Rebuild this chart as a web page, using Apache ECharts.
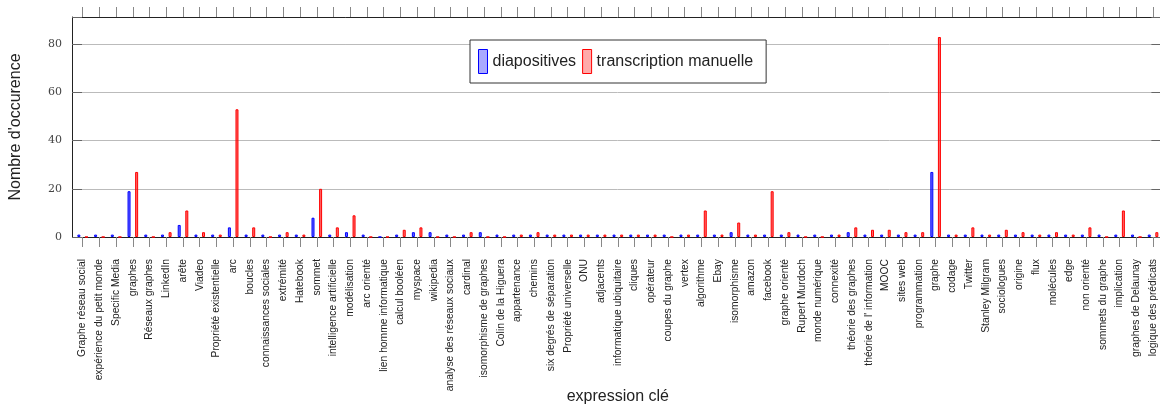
<!DOCTYPE html>
<html>
<head>
<meta charset="utf-8">
<script src="https://cdn.jsdelivr.net/npm/echarts@6/dist/echarts.min.js"></script>
<style>
html,body{margin:0;padding:0;background:#fff;}
#chart{width:1160px;height:405px;}
</style>
</head>
<body>
<div id="chart"></div>
<script>
const categories = [
  "Graphe réseau social","expérience du petit monde","Specific Media","graphes","Réseaux graphes",
  "LinkedIn","arête","Viadeo","Propriété existentielle","arc","boucles","connaissances sociales",
  "extrémité","Hatebook","sommet","intelligence artificielle","modélisation","arc orienté",
  "lien homme informatique","calcul booléen","myspace","wikipedia","analyse des réseaux sociaux",
  "cardinal","isomorphisme de graphes","Colin de la Higuera","appartenance","chemins",
  "six degrés de séparation","Propriété universelle","ONU","adjacents","informatique ubiquitaire",
  "cliques","opérateur","coupes du graphe","vertex","algorithme","Ebay","isomorphisme","amazon",
  "facebook","graphe orienté","Rupert Murdoch","monde numérique","connexité","théorie des graphes",
  "théorie de l' information","MOOC","sites web","programmation","graphe","codage","Twitter",
  "Stanley Milgram","sociologues","origine","flux","molécules","edge","non orienté",
  "sommets du graphe","implication","graphes de Delaunay","logique des prédicats"
];
const diapositives = [
  1,1,1,19,1,1,5,1,1,4,1,1,1,1,8,1,2,1,0,1,2,2,1,1,2,1,1,1,1,1,1,1,1,
  1,1,1,1,1,1,2,1,1,1,1,1,1,2,1,1,1,1,27,1,1,1,1,1,1,1,1,1,1,1,1,1
];
const transcription = [
  0,0,0,27,0,2,11,2,1,53,4,0,2,1,20,4,9,0,0,3,4,0,0,2,0,0,1,2,1,1,1,1,1,
  1,1,0,1,11,1,6,1,19,2,0,0,1,4,3,3,2,2,83,1,4,1,3,2,1,2,1,4,0,11,0,2
];
const yTicks = [0,20,40,60,80];
const seriesNames = ["diapositives","transcription manuelle"];

const chart = echarts.init(document.getElementById('chart'), null, {renderer:'canvas'});
const tickStyle = {color:'#888', width:1};
chart.setOption({
  animation:false,
  backgroundColor:'#fff',
  grid:{left:74.3, right:-1.4, top:17, bottom:168, containLabel:false, outerBoundsMode:'none'},
  legend:{
    left:470, top:40, orient:'horizontal', icon:'rect',
    itemWidth:9, itemHeight:24, itemGap:6,
    padding:[9,13,9,8],
    borderColor:'#333', borderWidth:1, backgroundColor:'#fff',
    selectedMode:false,
    textStyle:{fontSize:16, fontFamily:'Liberation Sans', color:'#222'},
    data:[
      {name:seriesNames[0], itemStyle:{color:'#aaaaff', borderColor:'#0000ff', borderWidth:1}},
      {name:seriesNames[1], itemStyle:{color:'#ffaaaa', borderColor:'#ff0000', borderWidth:1}}
    ]
  },
  xAxis:[
    {
      type:'category', data:categories, boundaryGap:true, position:'bottom',
      axisLine:{show:true, onZero:false, lineStyle:{color:'#222', width:1}},
      axisTick:{show:true, alignWithLabel:true, inside:false, length:10, interval:0, lineStyle:tickStyle},
      axisLabel:{show:true, rotate:90, interval:0, margin:22, fontSize:10.3, fontFamily:'Liberation Sans', color:'#222'},
      splitLine:{show:false},
      name:'expression clé', nameLocation:'middle', nameGap:152, nameMoveOverlap:false,
      nameTextStyle:{fontSize:16, fontFamily:'Liberation Sans', color:'#222'}
    },
    {
      type:'category', data:categories, boundaryGap:true, position:'top',
      axisLine:{show:true, onZero:false, lineStyle:{color:'#222', width:1}},
      axisTick:{show:true, alignWithLabel:true, inside:false, length:10, interval:0, lineStyle:tickStyle},
      axisLabel:{show:false, interval:0},
      splitLine:{show:false}
    }
  ],
  yAxis:[
    {
      type:'value', min:0, max:91.3, interval:20, position:'left', offset:2.3,
      axisLine:{show:true, onZero:false, lineStyle:{color:'#222', width:1}},
      axisTick:{show:true, inside:true, length:10, lineStyle:{color:'#666', width:1}},
      axisLabel:{show:true, margin:10, fontSize:11, fontFamily:'DejaVu Serif', color:'#444',
        formatter:function(v){ return yTicks.indexOf(v) >= 0 ? String(v) : ''; }},
      splitLine:{show:true, lineStyle:{color:'#bbb', width:1}},
      name:"Nombre d'occurence", nameLocation:'middle', nameGap:48.5, nameMoveOverlap:false,
      nameTextStyle:{fontSize:16, fontFamily:'Liberation Sans', color:'#222'}
    },
    {
      type:'value', min:0, max:91.3, interval:20, position:'right',
      axisLine:{show:true, onZero:false, lineStyle:{color:'#222', width:1}},
      axisTick:{show:true, inside:true, length:10, lineStyle:{color:'#666', width:1}},
      axisLabel:{show:false},
      splitLine:{show:false}
    }
  ],
  series:[
    {
      name:seriesNames[0], type:'bar', data:diapositives, xAxisIndex:0, yAxisIndex:0,
      barWidth:3, barGap:'153%',
      itemStyle:{color:'rgba(0,0,255,0.6)', borderColor:'#0000ff', borderWidth:1}
    },
    {
      name:seriesNames[1], type:'bar', data:transcription, xAxisIndex:0, yAxisIndex:0,
      barWidth:3, barGap:'153%',
      itemStyle:{color:'rgba(255,0,0,0.6)', borderColor:'#ff0000', borderWidth:1}
    }
  ]
});
</script>
</body>
</html>
